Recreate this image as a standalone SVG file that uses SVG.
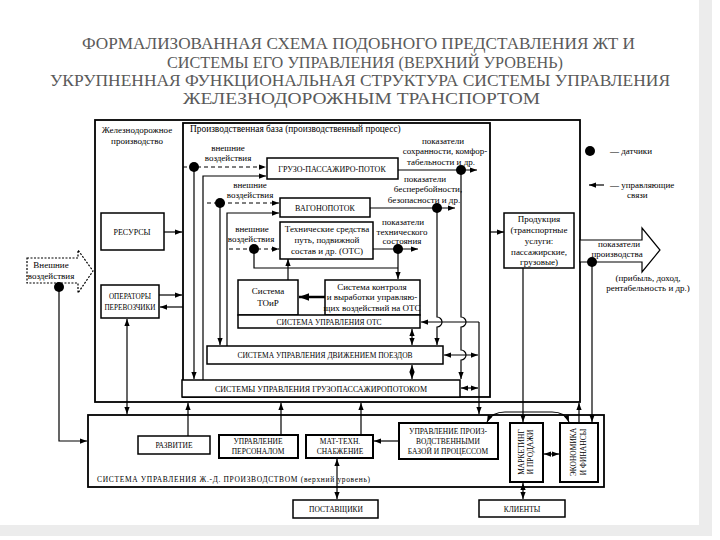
<svg xmlns="http://www.w3.org/2000/svg" width="720" height="540" viewBox="0 0 720 540">
<defs>
<marker id="a" viewBox="0 0 8 6" refX="8" refY="3" markerWidth="7" markerHeight="5.5" markerUnits="userSpaceOnUse" orient="auto-start-reverse"><path d="M0,0 L8,3 L0,6 z" fill="#000"/></marker>
<marker id="ab" viewBox="0 0 8 6" refX="8" refY="3" markerWidth="10" markerHeight="8" markerUnits="userSpaceOnUse" orient="auto-start-reverse"><path d="M0,0 L8,3 L0,6 z" fill="#000"/></marker>
<style>
.t{font-family:"Liberation Serif","DejaVu Serif",serif;fill:#000}
.ti{font-family:"Liberation Serif","DejaVu Serif",serif;fill:#5a5a5a;font-size:16.5px;font-weight:normal}
.c{text-anchor:middle}
.s8{font-size:8px}
.s75{font-size:7.5px}
.s9{font-size:9px}
.box{fill:#fff;stroke:#000;stroke-width:1.5}
.bx2{fill:#fff;stroke:#000;stroke-width:2}
.cont{fill:none;stroke:#000;stroke-width:1.8}
.ln{fill:none;stroke:#000;stroke-width:1.2}
.ar{marker-end:url(#a)}
.da{marker-start:url(#a);marker-end:url(#a)}
.dash{stroke-dasharray:4 3}
.sen{fill:#000}
</style>
</defs>
<rect width="720" height="540" fill="#fff"/>
<rect x="699" y="0" width="13" height="536" fill="#ececec"/>
<rect x="0" y="525" width="712" height="11" fill="#ececec"/>

<g id="title">
<text class="ti" x="82" y="49" textLength="553" lengthAdjust="spacingAndGlyphs">ФОРМАЛИЗОВАННАЯ СХЕМА ПОДОБНОГО ПРЕДСТАВЛЕНИЯ ЖТ И</text>
<text class="ti" x="167" y="68" textLength="396" lengthAdjust="spacingAndGlyphs">СИСТЕМЫ ЕГО УПРАВЛЕНИЯ (ВЕРХНИЙ УРОВЕНЬ)</text>
<text class="ti" x="50" y="86" textLength="620" lengthAdjust="spacingAndGlyphs">УКРУПНЕННАЯ ФУНКЦИОНАЛЬНАЯ СТРУКТУРА СИСТЕМЫ УПРАВЛЕНИЯ</text>
<text class="ti" x="183" y="104" textLength="357" lengthAdjust="spacingAndGlyphs">ЖЕЛЕЗНОДОРОЖНЫМ ТРАНСПОРТОМ</text>
</g>

<g id="zhd-proizvodstvo">
<rect class="cont" x="95" y="120" width="485" height="282"/>
<text class="t c s9" x="137" y="133">Железнодорожное</text>
<text class="t c s9" x="137" y="144">производство</text>
</g>
<g id="proizv-baza">
<rect class="cont" x="183" y="123" width="307" height="274"/>
<text class="t" style="font-size:9.4px" x="190" y="132">Производственная база (производственный процесс)</text>
</g>
<g id="sistema-upr-zhd">
<rect class="cont" x="88" y="415" width="516" height="72"/>
<text class="t s75" x="97" y="482" textLength="273" lengthAdjust="spacing">СИСТЕМА  УПРАВЛЕНИЯ  Ж.-Д.  ПРОИЗВОДСТВОМ  (верхний  уровень)</text>
</g>

<g id="connectors">
<line class="ln dash ar" x1="183" y1="167" x2="266" y2="167"/>
<line class="ln ar" x1="194" y1="167" x2="194" y2="379"/>
<polyline class="ln ar" points="203,380 203,176 266,176"/>
<line class="ln ar" x1="398" y1="170" x2="477" y2="170"/>
<path class="ln ar" d="M461,170 V317 a5,5 0 0 1 0,10 V350 a5,5 0 0 1 0,10 V379"/>
<line class="ln dash ar" x1="207" y1="203" x2="279" y2="203"/>
<line class="ln ar" x1="220" y1="203" x2="220" y2="345"/>
<polyline class="ln ar" points="227,346 227,213 279,213"/>
<line class="ln ar" x1="370" y1="208" x2="455" y2="208"/>
<path class="ln ar" d="M437,208 V317 a5,5 0 0 1 0,10 V345"/>
<line class="ln dash ar" x1="229" y1="249" x2="279" y2="249"/>
<polyline class="ln" points="254,249 254,268 398,268"/>
<line class="ln ar" x1="373" y1="249" x2="418" y2="249"/>
<line class="ln ar" x1="398" y1="249" x2="398" y2="279"/>
<line class="ln ar" x1="288" y1="280" x2="288" y2="259"/>
<line class="ln" style="stroke-width:2.5;marker-end:url(#ab)" x1="325" y1="297" x2="299" y2="297"/>
<line class="ln da" x1="412" y1="329" x2="412" y2="345"/>
<line class="ln da" x1="412" y1="365" x2="412" y2="379"/>
<line class="ln ar" x1="479" y1="322" x2="421" y2="322"/>
<line class="ln da" x1="444" y1="355" x2="478" y2="355"/>
<line class="ln da" x1="461" y1="388" x2="478" y2="388"/>
<line class="ln ar" x1="479" y1="322" x2="479" y2="414"/>
<line class="ln ar" x1="164" y1="232" x2="182" y2="232"/>
<line class="ln ar" x1="159" y1="295" x2="182" y2="295"/>
<line class="ln ar" x1="183" y1="307" x2="160" y2="307"/>
<line class="ln da" x1="127" y1="319" x2="127" y2="414"/>
<polyline class="ln ar" points="59,287 59,441 87,441"/>
<line class="ln ar" x1="490" y1="232" x2="504" y2="232"/>
<line class="ln ar" x1="523" y1="268" x2="523" y2="422"/>
<line class="ln ar" x1="579" y1="423" x2="579" y2="403"/>
<line class="ln ar" x1="592" y1="262" x2="592" y2="422"/>
<line class="ln ar" x1="188" y1="436" x2="188" y2="403"/>
<line class="ln ar" x1="281" y1="435" x2="281" y2="403"/>
<line class="ln ar" x1="361" y1="435" x2="361" y2="403"/>
<line class="ln ar" x1="399" y1="441" x2="374" y2="441"/>
<line class="ln da" x1="544" y1="454" x2="559" y2="454"/>
<path class="ln da" d="M487,422 Q492,412 505,412 L552,412 Q565,412 569,422"/>
<line class="ln da" x1="337" y1="459" x2="337" y2="499"/>
<line class="ln da" x1="523" y1="483" x2="523" y2="499"/>
<line class="ln ar" x1="604" y1="185" x2="589" y2="185"/>
</g>

<g id="vneshnie-labels">
<text class="t c s9" x="228" y="151">внешние</text>
<text class="t c s9" x="228" y="161">воздействия</text>
<text class="t c s9" x="250" y="188">внешние</text>
<text class="t c s9" x="250" y="198">воздействия</text>
<text class="t c s9" x="252" y="232">внешние</text>
<text class="t c s9" x="251" y="242">воздействия</text>
</g>
<g id="pokazateli-labels">
<text class="t c s9" x="443" y="144">показатели</text>
<text class="t c s9" x="445" y="154">сохранности, комфор-</text>
<text class="t c s9" x="441" y="165">табельности и др.</text>
<text class="t c s9" x="425" y="182">показатели</text>
<text class="t c s9" x="428" y="192">бесперебойности,</text>
<text class="t c s9" x="424" y="203">безопасности и др.</text>
<text class="t c s9" x="403" y="225">показатели</text>
<text class="t c s9" x="402" y="235">технического</text>
<text class="t c s9" x="402" y="244">состояния</text>
</g>

<g id="gruzo-passazhiro-potok">
<rect class="box" x="267" y="158" width="131" height="21"/>
<text class="t c s8" x="332" y="172">ГРУЗО-ПАССАЖИРО-ПОТОК</text>
</g>
<g id="vagonopotok">
<rect class="box" x="280" y="198" width="90" height="19"/>
<text class="t c s8" x="325" y="211">ВАГОНОПОТОК</text>
</g>
<g id="tekh-sredstva">
<rect class="box" x="280" y="222" width="93" height="37"/>
<text class="t c s9" x="327" y="232">Технические средства</text>
<text class="t c s9" x="327" y="243">путь, подвижной</text>
<text class="t c s9" x="327" y="254">состав и др. (ОТС)</text>
</g>
<g id="sistema-toir">
<rect class="box" x="238" y="280" width="60" height="35"/>
<text class="t c s9" x="268" y="294">Система</text>
<text class="t c s9" x="268" y="306">ТОиР</text>
</g>
<g id="sistema-kontrolya">
<rect class="box" x="325" y="280" width="95" height="35"/>
<text class="t c s9" x="372" y="290">Система контроля</text>
<text class="t c s9" x="372" y="300">и выработки управляю-</text>
<text class="t c s9" x="372" y="311">щих воздействий на ОТС</text>
</g>
<g id="sistema-upr-ots">
<rect class="box" x="238" y="315" width="182" height="13"/>
<text class="t c s75" x="329" y="324.5">СИСТЕМА УПРАВЛЕНИЯ ОТС</text>
</g>
<g id="sistema-upr-dvizh">
<rect class="box" x="207" y="346" width="236" height="18"/>
<text class="t c s75" x="325" y="358">СИСТЕМА УПРАВЛЕНИЯ ДВИЖЕНИЕМ ПОЕЗДОВ</text>
</g>
<g id="sistema-upr-gruzopass">
<rect class="box" x="182" y="380" width="278" height="17"/>
<text class="t c s8" x="321" y="391.5">СИСТЕМЫ УПРАВЛЕНИЯ ГРУЗОПАССАЖИРОПОТОКОМ</text>
</g>

<g id="resursy">
<rect class="box" x="101" y="213" width="63" height="37"/>
<text class="t c s8" x="132" y="235">РЕСУРСЫ</text>
</g>
<g id="operatory">
<rect class="box" x="101" y="285" width="58" height="33"/>
<text class="t c" style="font-size:7.2px" x="130" y="299">ОПЕРАТОРЫ</text>
<text class="t c" style="font-size:7.2px" x="130" y="310">ПЕРЕВОЗЧИКИ</text>
</g>
<g id="vneshnie-vozdeistviya">
<polygon points="27,258 78,258 78,250 93,271 78,293 78,283 27,283" fill="#fff" stroke="#000" stroke-width="1.2" stroke-dasharray="2 1.5"/>
<text class="t c s9" x="51" y="268">Внешние</text>
<text class="t c s9" x="51" y="279">воздействия</text>
</g>

<g id="produktsiya">
<rect class="box" x="504" y="213" width="70" height="55"/>
<text class="t c s9" x="539" y="222">Продукция</text>
<text class="t c s9" x="539" y="233">(транспортные</text>
<text class="t c s9" x="539" y="244">услуги:</text>
<text class="t c s9" x="539" y="255">пассажирские,</text>
<text class="t c s9" x="539" y="265">грузовые)</text>
</g>
<g id="pokazateli-proizvodstva">
<polygon points="580,240 642,240 642,228 660,250 642,272 642,262 580,262" fill="#fff" stroke="#000" stroke-width="1.2"/>
<text class="t c s9" x="619" y="247">показатели</text>
<text class="t c s9" x="617" y="257">производства</text>
<text class="t c s9" x="648" y="281">(прибыль, доход,</text>
<text class="t c s9" x="648" y="291">рентабельность и др.)</text>
</g>

<g id="legend">
<circle class="sen" cx="590" cy="151" r="5"/>
<text class="t s9" x="610" y="154">— датчики</text>
<text class="t s9" x="610" y="188">— управляющие</text>
<text class="t s9" x="627" y="198">связи</text>
</g>

<g id="razvitie">
<rect class="box" x="138" y="436" width="72" height="18"/>
<text class="t c s75" x="174" y="448">РАЗВИТИЕ</text>
</g>
<g id="upr-personalom">
<rect class="bx2" x="219" y="435" width="79" height="23"/>
<text class="t c s75" x="258" y="444">УПРАВЛЕНИЕ</text>
<text class="t c s75" x="258" y="454">ПЕРСОНАЛОМ</text>
</g>
<g id="mat-tekh">
<rect class="bx2" x="306" y="435" width="67" height="23"/>
<text class="t c s75" x="340" y="444">МАТ-ТЕХН.</text>
<text class="t c s75" x="340" y="454">СНАБЖЕНИЕ</text>
</g>
<g id="upr-proizv-bazoi">
<rect class="bx2" x="399" y="423" width="99" height="36"/>
<text class="t c s75" x="448" y="434">УПРАВЛЕНИЕ ПРОИЗ-</text>
<text class="t c s75" x="448" y="444">ВОДСТВЕННЫМИ</text>
<text class="t c s75" x="448" y="454">БАЗОЙ И ПРОЦЕССОМ</text>
</g>
<g id="marketing">
<rect class="bx2" x="510" y="423" width="33" height="59"/>
<text class="t c s75" transform="translate(524,452) rotate(-90)" x="0" y="0">МАРКЕТИНГ</text>
<text class="t c s75" transform="translate(533,452) rotate(-90)" x="0" y="0">И ПРОДАЖИ</text>
</g>
<g id="ekonomika">
<rect class="bx2" x="560" y="423" width="38" height="59"/>
<text class="t c s75" transform="translate(576,452) rotate(-90)" x="0" y="0">ЭКОНОМИКА</text>
<text class="t c s75" transform="translate(586,452) rotate(-90)" x="0" y="0">И ФИНАНСЫ</text>
</g>
<g id="postavshchiki">
<rect class="box" x="293" y="500" width="85" height="18"/>
<text class="t c s75" x="336" y="512">ПОСТАВЩИКИ</text>
</g>
<g id="klienty">
<rect class="box" x="479" y="500" width="86" height="17"/>
<text class="t c s75" x="522" y="511.5">КЛИЕНТЫ</text>
</g>

<g id="sensors">
<circle class="sen" cx="194" cy="167" r="5"/>
<circle class="sen" cx="461" cy="170" r="5"/>
<circle class="sen" cx="220" cy="203" r="5"/>
<circle class="sen" cx="437" cy="208" r="5"/>
<circle class="sen" cx="254" cy="249" r="5"/>
<circle class="sen" cx="398" cy="249" r="5"/>
<circle class="sen" cx="59" cy="287" r="5"/>
<circle class="sen" cx="592" cy="262" r="5"/>
</g>
</svg>
